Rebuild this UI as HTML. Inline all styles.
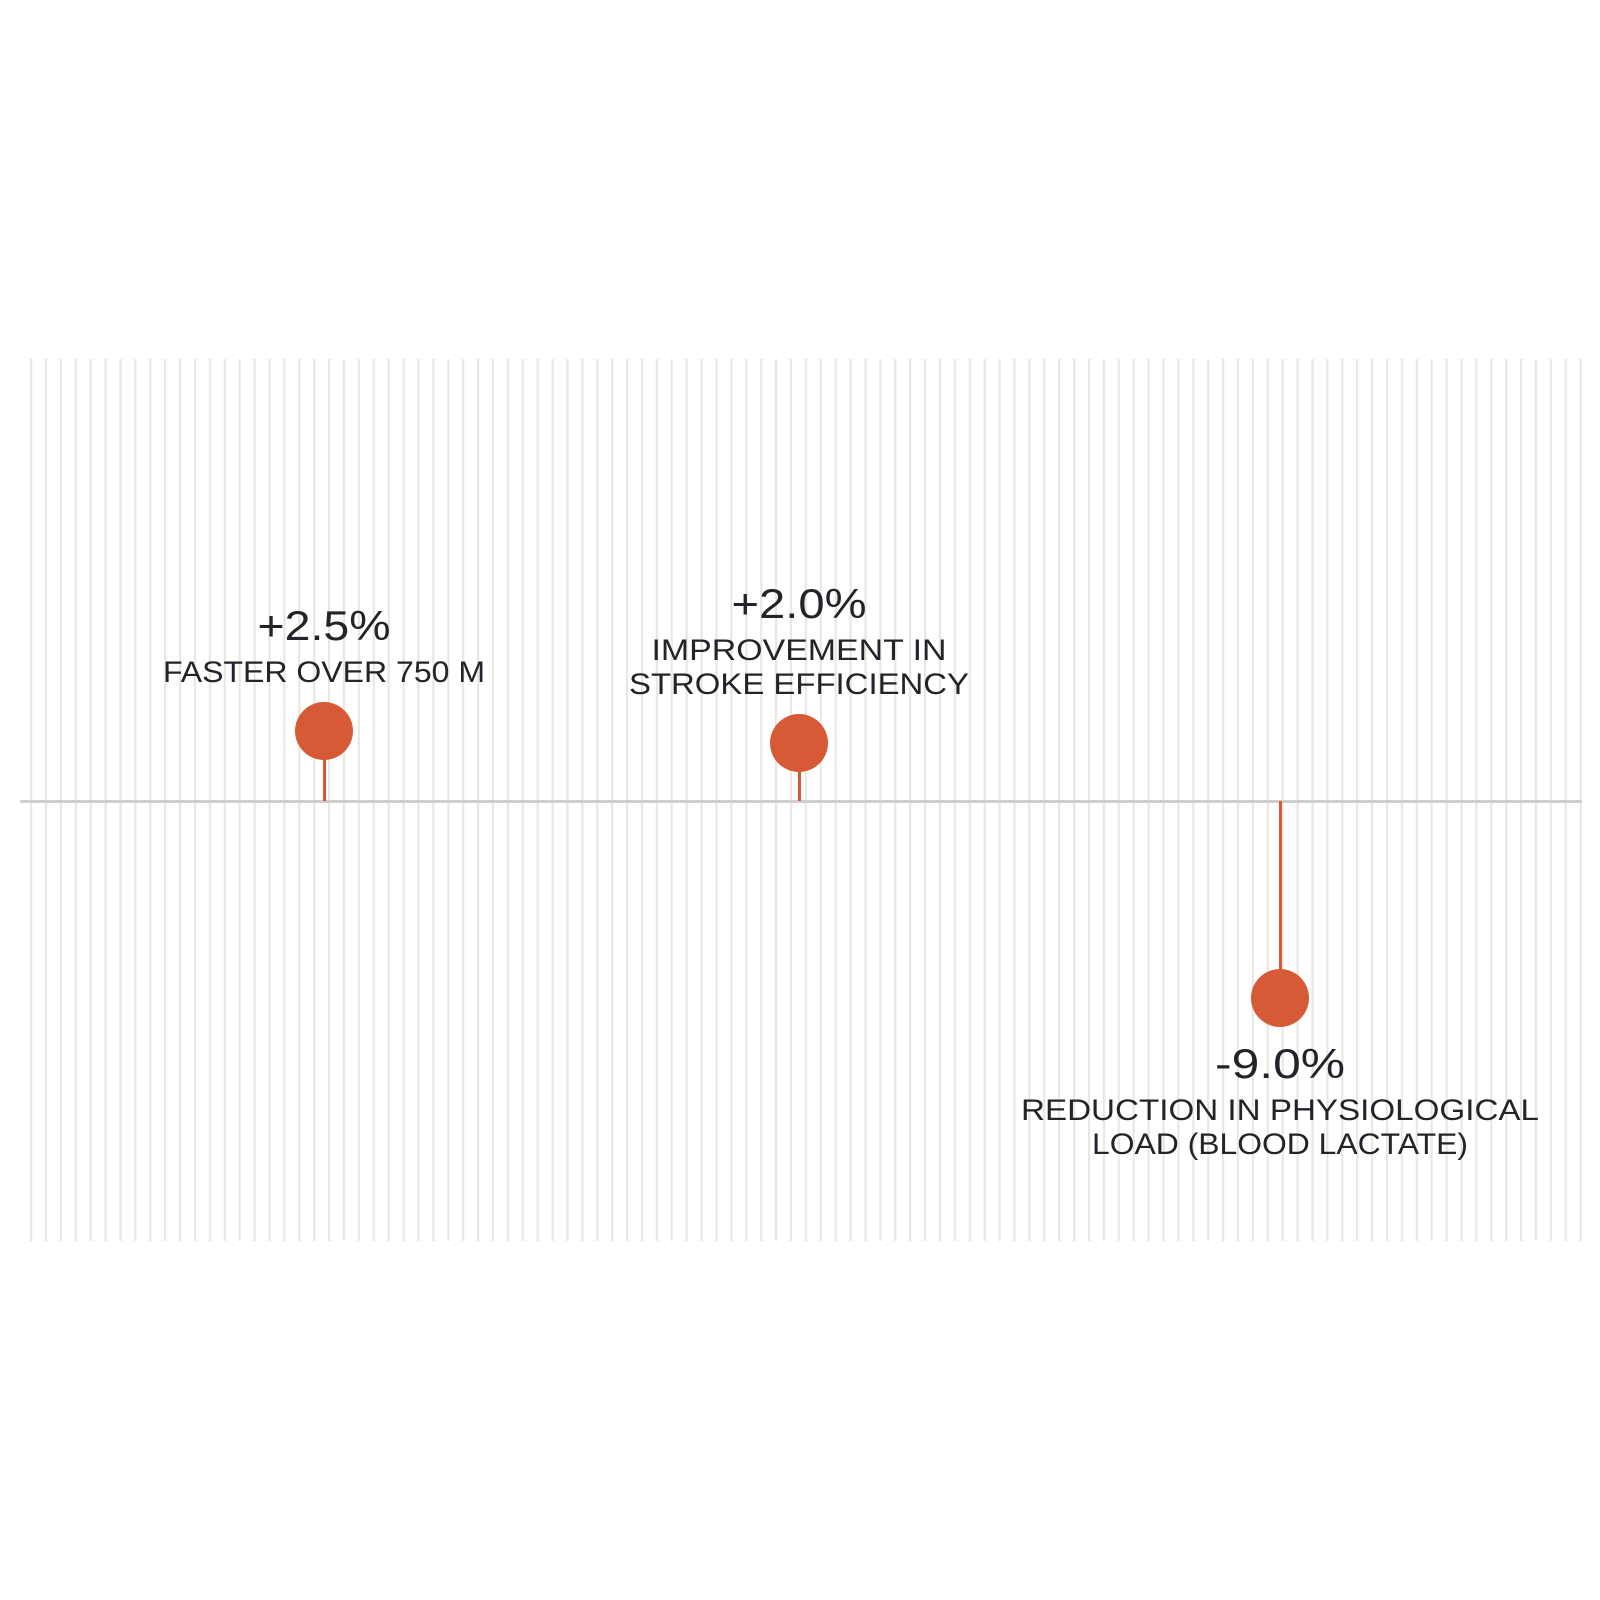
<!DOCTYPE html>
<html><head><meta charset="utf-8"><style>
html,body{margin:0;padding:0;background:#fff;}
svg{display:block;}
text{font-family:"Liberation Sans",sans-serif;fill:#23232a;}
</style></head><body>
<svg width="1600" height="1600" viewBox="0 0 1600 1600" xmlns="http://www.w3.org/2000/svg">
<defs>
<pattern id="st" x="30" y="0" width="14.9" height="10" patternUnits="userSpaceOnUse">
<rect x="0" y="0" width="2.2" height="10" fill="#ebe7e0"/>
</pattern>
</defs>
<rect x="30" y="359" width="1553" height="882" fill="url(#st)"/>
<rect x="20" y="800" width="1562" height="3" fill="#cfcfcf"/>
<!-- marker 1 -->
<rect x="323" y="740" width="3" height="61" fill="#d65a35"/>
<circle cx="324" cy="731" r="29" fill="#d65a35"/>
<text x="324" y="640" font-size="42" text-anchor="middle" textLength="133" lengthAdjust="spacingAndGlyphs">+2.5%</text>
<text x="324" y="682" font-size="30" text-anchor="middle" textLength="322" lengthAdjust="spacingAndGlyphs">FASTER OVER 750 M</text>
<!-- marker 2 -->
<rect x="798" y="750" width="3" height="51" fill="#d65a35"/>
<circle cx="799" cy="743" r="29" fill="#d65a35"/>
<text x="799" y="618" font-size="42" text-anchor="middle" textLength="135" lengthAdjust="spacingAndGlyphs">+2.0%</text>
<text x="799" y="660" font-size="30" text-anchor="middle" textLength="295" lengthAdjust="spacingAndGlyphs">IMPROVEMENT IN</text>
<text x="799" y="694" font-size="30" text-anchor="middle" textLength="340" lengthAdjust="spacingAndGlyphs">STROKE EFFICIENCY</text>
<!-- marker 3 -->
<rect x="1279" y="801" width="3" height="190" fill="#d65a35"/>
<circle cx="1280" cy="998" r="29" fill="#d65a35"/>
<text x="1280" y="1078" font-size="42" text-anchor="middle" textLength="130" lengthAdjust="spacingAndGlyphs">-9.0%</text>
<text x="1280" y="1120" font-size="30" text-anchor="middle" textLength="518" lengthAdjust="spacingAndGlyphs">REDUCTION IN PHYSIOLOGICAL</text>
<text x="1280" y="1154" font-size="30" text-anchor="middle" textLength="376" lengthAdjust="spacingAndGlyphs">LOAD (BLOOD LACTATE)</text>
</svg>
</body></html>
